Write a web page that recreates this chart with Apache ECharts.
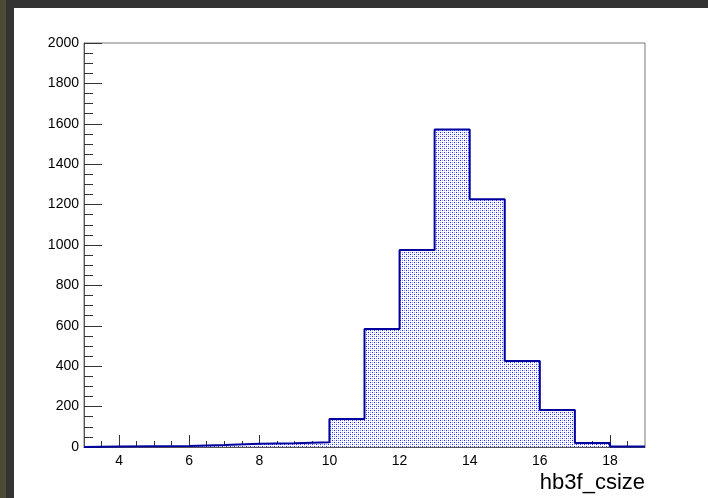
<!DOCTYPE html>
<html>
<head>
<meta charset="utf-8">
<script src="https://cdn.jsdelivr.net/npm/echarts@6/dist/echarts.min.js"></script>
<style>
html,body{margin:0;padding:0;background:#fff;}
#c{width:708px;height:498px;}
</style>
</head>
<body>
<div id="c"></div>
<script>
// Histogram data
const binEdges = [3,4,5,6,7,8,9,10,11,12,13,14,15,16,17,18,19];
const counts = [2,4,5,10,16,19,23,138,584,975,1572,1227,426,183,20,2];
const xMajorTicks = [4,6,8,10,12,14,16,18];
const xMinorTicks = [3.5,4.5,5,5.5,6.5,7,7.5,8.5,9,9.5,10.5,11,11.5,12.5,13,13.5,14.5,15,15.5,16.5,17,17.5,18.5];
const xTitle = 'hb3f_csize';

// build step outline from bins
const outline = [[binEdges[0], 0]];
for (let i = 0; i < counts.length; i++) {
  outline.push([binEdges[i], counts[i]]);
  outline.push([binEdges[i + 1], counts[i]]);
}
outline.push([binEdges[binEdges.length - 1], 0]);

// dotted fill pattern
const pc = document.createElement('canvas');
pc.width = 4; pc.height = 4;
const pctx = pc.getContext('2d');
pctx.fillStyle = '#ffffff'; pctx.fillRect(0, 0, 4, 4);
pctx.fillStyle = '#2020ff'; pctx.fillRect(0, 0, 1, 1); pctx.fillRect(2, 2, 1, 1);
pctx.fillStyle = '#9a9aff'; pctx.fillRect(2, 0, 1, 1); pctx.fillRect(0, 2, 1, 1);

const chart = echarts.init(document.getElementById('c'), null, {renderer: 'canvas'});
const font = 'Liberation Sans';
chart.setOption({
  animation: false,
  backgroundColor: '#ffffff',
  graphic: [
    {type: 'rect', shape: {x: 0, y: 0, width: 708, height: 8}, style: {fill: '#333333'}, z: 100},
    {type: 'rect', shape: {x: 0, y: 0, width: 14, height: 498}, style: {fill: '#333333'}, z: 100},
    {type: 'rect', shape: {x: 0, y: 0, width: 6, height: 498}, style: {fill: '#4d4b33'}, z: 101}
  ],
  title: {
    text: xTitle, right: 63, top: 472,
    textStyle: {fontFamily: font, fontSize: 22, fontWeight: 'normal', color: '#000'},
    padding: 0
  },
  grid: {left: 84, right: 63, top: 43, bottom: 51, show: true, borderColor: '#777', borderWidth: 1, backgroundColor: 'transparent'},
  xAxis: [{
    type: 'value', min: 3, max: 19,
    axisLine: {show: true, lineStyle: {color: '#555', width: 1}},
    axisTick: {show: true, inside: true, length: 12, customValues: xMajorTicks, lineStyle: {color: '#333'}},
    axisLabel: {customValues: xMajorTicks, fontFamily: font, fontSize: 14, color: '#000', margin: 7},
    splitLine: {show: false}
  }, {
    type: 'value', min: 3, max: 19, position: 'bottom',
    axisLine: {show: false},
    axisTick: {show: true, inside: true, length: 6, customValues: xMinorTicks, lineStyle: {color: '#333'}},
    axisLabel: {show: false},
    splitLine: {show: false}
  }],
  yAxis: {
    type: 'value', min: 0, max: 2000, interval: 200,
    axisLine: {show: true, lineStyle: {color: '#555', width: 1}},
    axisTick: {show: true, inside: true, length: 18, lineStyle: {color: '#333'}},
    minorTick: {show: true, splitNumber: 4, length: 9, lineStyle: {color: '#333'}},
    axisLabel: {fontFamily: font, fontSize: 14, color: '#000', margin: 5, formatter: function (v) { return String(v); }},
    splitLine: {show: false}
  },
  series: [{
    type: 'line',
    data: outline,
    xAxisIndex: 0,
    symbol: 'none',
    lineStyle: {color: '#0000a0', width: 2},
    areaStyle: {color: {image: pc, repeat: 'repeat'}, opacity: 1},
    z: 2
  }]
});
</script>
</body>
</html>
